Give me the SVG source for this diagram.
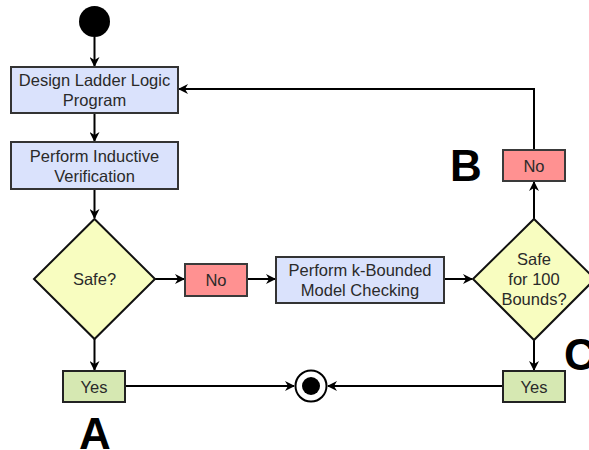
<svg xmlns="http://www.w3.org/2000/svg" width="589" height="450" viewBox="0 0 589 450">
  <style>
    .proc { fill: #dae2fc; stroke: #333333; stroke-width: 2; }
    .dec { fill: #f8fdc0; stroke: #111111; stroke-width: 2; }
    .no { fill: #ff9191; stroke: #3a3a3a; stroke-width: 2; }
    .yes { fill: #d6e8b2; stroke: #222222; stroke-width: 2; }
    .lbl { font-family: "Liberation Sans", Arial, sans-serif; font-size: 16.5px; fill: #2a2a2a; text-anchor: middle; }
    .big { font-family: "Liberation Sans", Arial, sans-serif; font-size: 44px; font-weight: bold; fill: #000000; text-anchor: middle; }
    .edge { fill: none; stroke: #000000; stroke-width: 2; }
  </style>
  <defs>
    <marker id="arrow" viewBox="0 0 10 10" refX="9" refY="5" markerWidth="10" markerHeight="10" markerUnits="userSpaceOnUse" orient="auto">
      <path d="M0,0 L10,5 L0,10 L3,5 Z" fill="#000000"/>
    </marker>
  </defs>

  <g id="connectors">
    <path class="edge" d="M94.5,37 L94.5,66" marker-end="url(#arrow)"/>
    <path class="edge" d="M94.5,113 L94.5,141" marker-end="url(#arrow)"/>
    <path class="edge" d="M94.5,189 L94.5,218" marker-end="url(#arrow)"/>
    <path class="edge" d="M155,279 L184,279" marker-end="url(#arrow)"/>
    <path class="edge" d="M247,279 L275,279" marker-end="url(#arrow)"/>
    <path class="edge" d="M444,279 L472,279" marker-end="url(#arrow)"/>
    <path class="edge" d="M94.5,339 L94.5,370" marker-end="url(#arrow)"/>
    <path class="edge" d="M534,340 L534,370" marker-end="url(#arrow)"/>
    <path class="edge" d="M534,219 L534,182" marker-end="url(#arrow)"/>
    <path class="edge" d="M534,150 L534,89 L179,89" marker-end="url(#arrow)"/>
    <path class="edge" d="M125,386 L294,386" marker-end="url(#arrow)"/>
    <path class="edge" d="M503,386 L328,386" marker-end="url(#arrow)"/>
  </g>

  <g id="start">
    <circle cx="94.5" cy="21.5" r="15.5" fill="#000000"/>
  </g>

  <g id="design">
    <rect class="proc" x="11" y="67" width="167" height="46"/>
    <text class="lbl" x="94.5" y="86">Design Ladder Logic</text>
    <text class="lbl" x="94.5" y="105.5">Program</text>
  </g>

  <g id="inductive">
    <rect class="proc" x="11" y="142" width="167" height="47"/>
    <text class="lbl" x="94.5" y="161.5">Perform Inductive</text>
    <text class="lbl" x="94.5" y="181.5">Verification</text>
  </g>

  <g id="safe">
    <polygon class="dec" points="94.5,219 155,279 94.5,339 34,279"/>
    <text class="lbl" x="94.5" y="285">Safe?</text>
  </g>

  <g id="no-left">
    <rect class="no" x="185" y="264" width="62" height="32"/>
    <text class="lbl" x="216" y="285.5">No</text>
  </g>

  <g id="kbounded">
    <rect class="proc" x="276" y="257" width="168" height="46"/>
    <text class="lbl" x="360" y="275.5">Perform k-Bounded</text>
    <text class="lbl" x="360" y="295.5">Model Checking</text>
  </g>

  <g id="safe100">
    <polygon class="dec" points="534,219 595,279 534,340 473,279"/>
    <text class="lbl" x="534" y="265">Safe</text>
    <text class="lbl" x="534" y="285">for 100</text>
    <text class="lbl" x="534" y="305">Bounds?</text>
  </g>

  <g id="no-right">
    <rect class="no" x="503" y="150" width="62" height="31"/>
    <text class="lbl" x="534" y="171.5">No</text>
  </g>

  <g id="yes-left">
    <rect class="yes" x="63" y="371" width="62" height="31"/>
    <text class="lbl" x="94" y="392.5">Yes</text>
  </g>

  <g id="yes-right">
    <rect class="yes" x="503" y="371" width="62" height="31"/>
    <text class="lbl" x="534" y="392.5">Yes</text>
  </g>

  <g id="end">
    <circle cx="311" cy="386" r="15.5" fill="#ffffff" stroke="#000000" stroke-width="2"/>
    <circle cx="311" cy="386" r="9" fill="#000000"/>
  </g>

  <g id="labels">
    <text class="big" x="95" y="449">A</text>
    <text class="big" x="466" y="181">B</text>
    <text class="big" x="580" y="370">C</text>
  </g>
</svg>
